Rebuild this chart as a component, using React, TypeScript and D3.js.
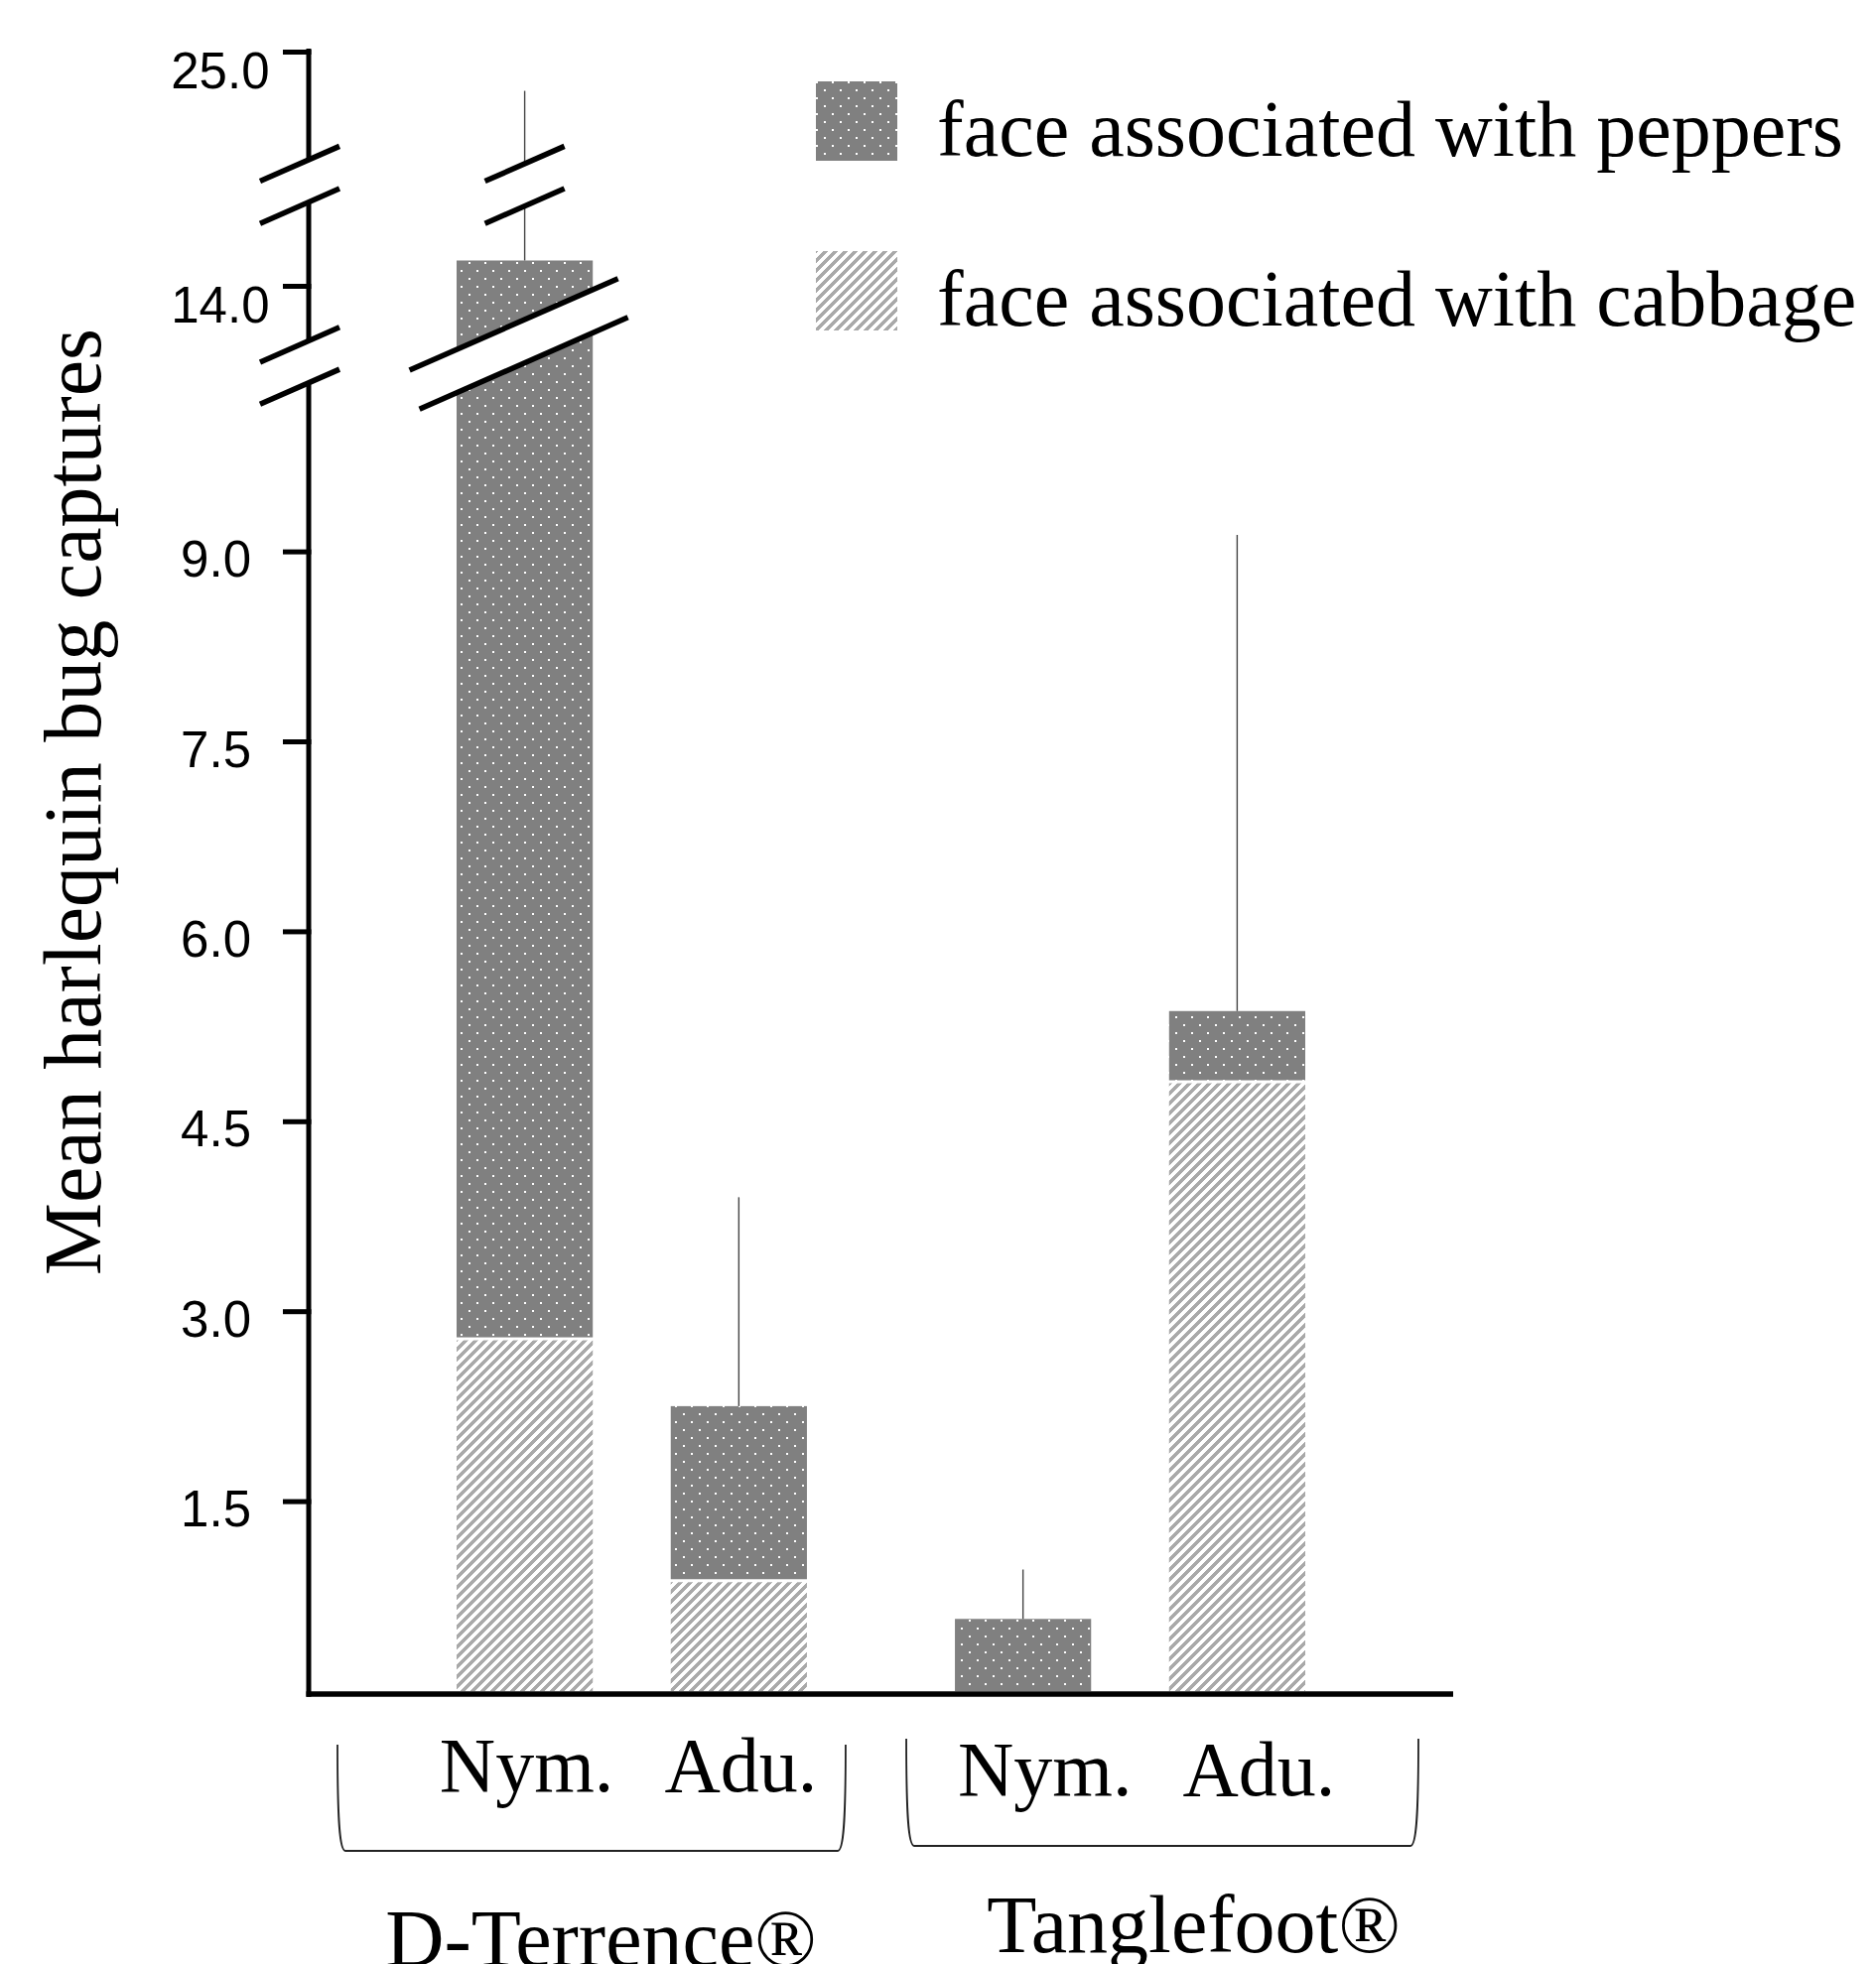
import React, { useEffect, useRef } from "react";
import * as d3 from "d3";

// bars in order: D-Terrence Nym., D-Terrence Adu., Tanglefoot Nym., Tanglefoot Adu.
const groups = ["D-Terrence®", "Tanglefoot®"];
const stages = ["Nym.", "Adu."];
const seriesNames = ["face associated with peppers", "face associated with cabbage"];
const cabbageMeans = [2.77, 0.86, 0, 4.8];
const pepperMeans = [11.43, 1.39, 0.57, 0.57];
const errorSE = [10.49, 1.65, 0.39, 3.76];
const yTicks = [1.5, 3.0, 4.5, 6.0, 7.5, 9.0, 14.0, 25.0];
// value ranges cut out of the broken y axis
const yBreaks = [
  [10.3, 13.57],
  [14.63, 24.15],
];

const W = 1890;
const H = 1979;
const serif = "'Liberation Serif', 'Times New Roman', serif";
const sans = "'Liberation Sans', Arial, sans-serif";

// piecewise scale: three linear pieces with the same px per unit
const unit = 127.6;
const yZero = 1704;
const y14 = 288;
const y25 = 52;
const yScale = d3
  .scaleLinear()
  .domain([0, yBreaks[0][0], yBreaks[0][1], yBreaks[1][0], yBreaks[1][1], 25])
  .range([
    yZero,
    yZero - yBreaks[0][0] * unit,
    y14 + (14 - yBreaks[0][1]) * unit,
    y14 - (yBreaks[1][0] - 14) * unit,
    y25 + (25 - yBreaks[1][1]) * unit,
    y25,
  ]);

const xGroup = d3.scaleBand().domain(groups).range([460, 1315]).paddingInner(0.297);
const xStage = d3.scaleBand().domain(stages).range([0, xGroup.bandwidth()]).paddingInner(0.364);

const axisX = 311;
const xAxisEnd = 1464;
const slope = 0.44;

// label / bracket tweaks per group
const stageShift = [2, 22];
const stageBaseline = [1805, 1809];
const groupShift = [-31, 64];
const groupBaseline = [1981, 1967];
const braceExt = [
  { l: 120, r: 39, top: 1758, bottom: 1865 },
  { l: 49, r: 114, top: 1752, bottom: 1860 },
];

function BreakMark({ c1, c2, half }: { c1: [number, number]; c2: [number, number]; half: number }) {
  const pt = (c: [number, number], dx: number) => [c[0] + dx, c[1] - slope * dx];
  const a1 = pt(c1, -half), a2 = pt(c1, half), b1 = pt(c2, -half), b2 = pt(c2, half);
  return (
    <g>
      <polygon points={[a1, a2, b2, b1].map((p) => p.join(",")).join(" ")} fill="#fff" />
      <line x1={a1[0]} y1={a1[1]} x2={a2[0]} y2={a2[1]} stroke="#000" strokeWidth={5.5} />
      <line x1={b1[0]} y1={b1[1]} x2={b2[0]} y2={b2[1]} stroke="#000" strokeWidth={5.5} />
    </g>
  );
}

export default function App() {
  const axisRef = useRef<SVGGElement>(null);

  const bars = groups.flatMap((g, gi) =>
    stages.map((s, si) => {
      const i = gi * stages.length + si;
      const x = (xGroup(g) as number) + (xStage(s) as number);
      return { g, s, gi, i, x, w: xStage.bandwidth(), cab: cabbageMeans[i], pep: pepperMeans[i], se: errorSE[i] };
    })
  );

  useEffect(() => {
    const g = d3.select(axisRef.current as SVGGElement);
    g.call(
      d3
        .axisLeft(yScale)
        .tickValues(yTicks)
        .tickSize(28.5)
        .tickPadding(32)
        .tickFormat(d3.format(".1f") as any)
    );
    g.select(".domain").remove();
    g.attr("font-size", 51).attr("font-family", sans);
    g.selectAll(".tick line").attr("stroke", "#000").attr("stroke-width", 5);
    g.selectAll<SVGTextElement, number>(".tick text")
      .attr("fill", "#000")
      .attr("dy", null)
      .attr("y", (d) => (d >= 14 ? 36 : 25))
      .attr("x", (d) => (d >= 14 ? -42 : -60.5));
  }, []);

  return (
    <svg width={W} height={H} style={{ position: "absolute", left: 0, top: 0, background: "#fff" }}>
      <defs>
        <pattern id="dots" width={16} height={16} patternUnits="userSpaceOnUse">
          <rect width={16} height={16} fill="#808080" />
          <rect x={0} y={0} width={2} height={2} fill="#fff" />
          <rect x={8} y={8} width={2} height={2} fill="#fff" />
        </pattern>
        <pattern id="stripes" width={10} height={10} patternUnits="userSpaceOnUse">
          <rect width={10} height={10} fill="#fff" />
          <path
            d="M0,10 L10,0 M-2,2 L2,-2 M8,12 L12,8"
            stroke="#a9a9a9"
            strokeWidth={3.6}
            shapeRendering="crispEdges"
          />
        </pattern>
      </defs>

      {/* bars */}
      {bars.map((b) => (
        <g key={b.i}>
          {b.cab > 0 && (
            <rect x={b.x} y={yScale(b.cab)} width={b.w} height={yScale(0) - yScale(b.cab)} fill="url(#stripes)" />
          )}
          <rect
            x={b.x}
            y={yScale(b.cab + b.pep)}
            width={b.w}
            height={yScale(b.cab) - (b.cab > 0 ? 3 : 0) - yScale(b.cab + b.pep)}
            fill="url(#dots)"
          />
          <line
            x1={b.x + b.w / 2}
            x2={b.x + b.w / 2}
            y1={yScale(b.cab + b.pep)}
            y2={yScale(b.cab + b.pep + b.se)}
            stroke="#444"
            strokeWidth={1.4}
          />
        </g>
      ))}

      {/* breaks across bars and error bars */}
      {bars.map((b) => {
        const cx = b.x + b.w / 2;
        const top = b.cab + b.pep;
        return (
          <g key={"br" + b.i}>
            {top > yBreaks[0][1] && (
              <BreakMark
                c1={[cx - 11, yScale(yBreaks[0][1]) + 4.5 - 20.5]}
                c2={[cx - 1, yScale(yBreaks[0][0]) - 23.7]}
                half={105}
              />
            )}
            {top + b.se > yBreaks[1][1] && (
              <BreakMark c1={[cx, yScale(yBreaks[1][1]) + 4.5]} c2={[cx, yScale(yBreaks[1][0])]} half={40} />
            )}
          </g>
        );
      })}

      {/* axes */}
      <line x1={308.5} x2={xAxisEnd} y1={1707} y2={1707} stroke="#000" strokeWidth={5.5} />
      <line x1={axisX} x2={axisX} y1={y25 - 3} y2={1709.75} stroke="#000" strokeWidth={5} />
      {yBreaks.map((br, k) => (
        <BreakMark
          key={"ab" + k}
          c1={[axisX - 9, yScale(br[1]) + 4.5]}
          c2={[axisX - 9, yScale(br[0])]}
          half={40}
        />
      ))}
      <g ref={axisRef} transform={`translate(${axisX + 2.5},0)`} />

      {/* y title */}
      <text
        transform="translate(101,808) rotate(-90)"
        textAnchor="middle"
        fontFamily={serif}
        fontSize={82}
        fill="#000"
      >
        Mean harlequin bug captures
      </text>

      {/* stage labels */}
      {bars.map((b) => (
        <text
          key={"sl" + b.i}
          x={b.x + b.w / 2 + stageShift[b.gi]}
          y={stageBaseline[b.gi]}
          textAnchor="middle"
          fontFamily={serif}
          fontSize={78}
          fill="#000"
        >
          {b.s}
        </text>
      ))}

      {/* group brackets and names */}
      {groups.map((g, gi) => {
        const x0 = (xGroup(g) as number) - braceExt[gi].l;
        const x1 = (xGroup(g) as number) + xGroup.bandwidth() + braceExt[gi].r;
        const { top, bottom } = braceExt[gi];
        const d = `M${x0},${top} C${x0},${bottom - 30} ${x0 + 2},${bottom} ${x0 + 8},${bottom} L${x1 - 8},${bottom} C${x1 - 2},${bottom} ${x1},${bottom - 30} ${x1},${top}`;
        return (
          <g key={"g" + gi}>
            <path d={d} fill="none" stroke="#222" strokeWidth={1.8} />
            <text
              x={(xGroup(g) as number) + xGroup.bandwidth() / 2 + groupShift[gi]}
              y={groupBaseline[gi]}
              textAnchor="middle"
              fontFamily={serif}
              fontSize={82}
              fill="#000"
            >
              {g}
            </text>
          </g>
        );
      })}

      {/* legend */}
      {seriesNames.map((s, k) => (
        <g key={"lg" + k} transform={`translate(822,${82 + k * 171})`}>
          <rect width={82} height={80} fill={k === 0 ? "url(#dots)" : "url(#stripes)"} />
          <text x={122} y={75} fontFamily={serif} fontSize={80} fill="#000">
            {s}
          </text>
        </g>
      ))}
    </svg>
  );
}
